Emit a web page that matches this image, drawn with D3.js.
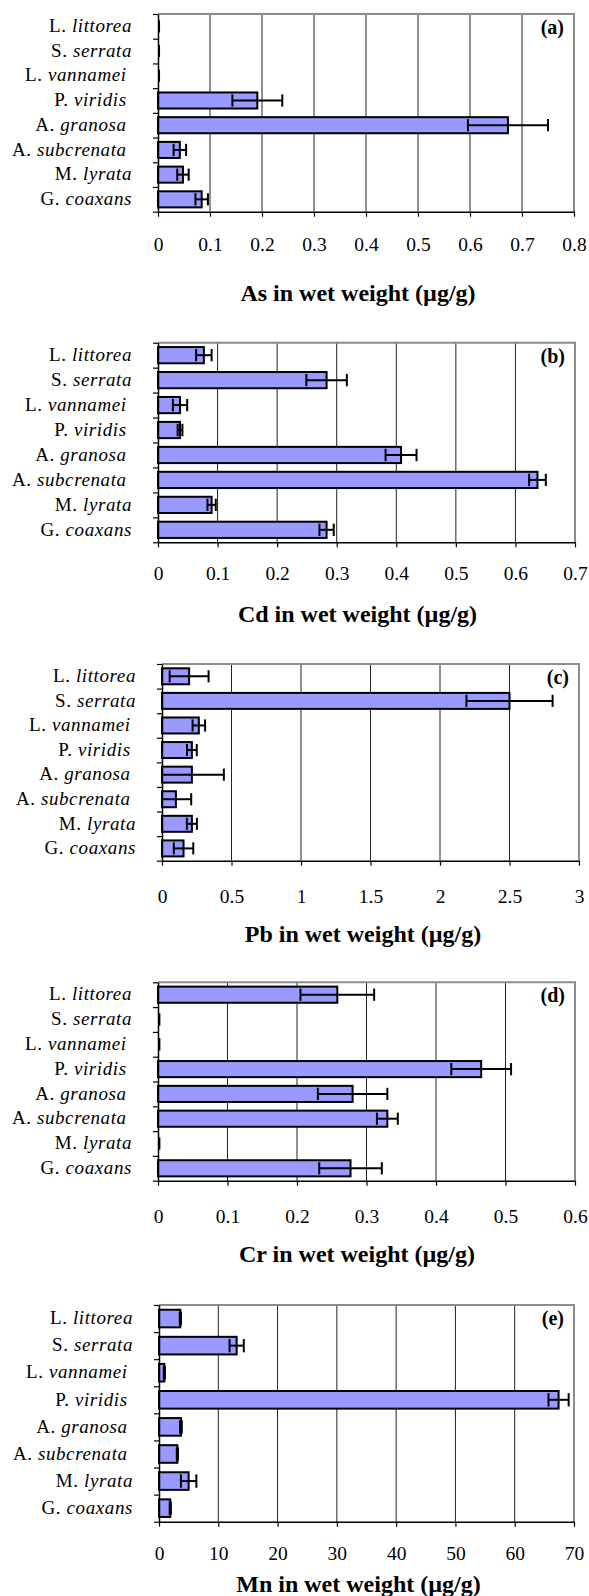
<!DOCTYPE html>
<html>
<head>
<meta charset="utf-8">
<script src="https://cdn.jsdelivr.net/npm/d3@7"></script>
<style>
  body { margin: 0; background: #fff; }
  svg { display: block; font-family: "Liberation Serif", "Times New Roman", serif; }
</style>
</head>
<body>
<div id="chart"></div>
<script>
// species (genus abbreviation upright, species italic); some names carry a trailing space in the original
const genus   = ["L.", "S.", "L.", "P.", "A.", "A.", "M.", "G."];
const species = ["littorea", "serrata", "vannamei ", "viridis ", "granosa ", "subcrenata ", "lyrata", "coaxans"];

// metal concentrations in wet weight (µg/g) with error (± SD)
const asVals = [0, 0, 0, 0.191, 0.673, 0.042, 0.048, 0.084];
const asErr  = [0.002, 0.002, 0.002, 0.048, 0.077, 0.012, 0.011, 0.012];
const cdVals = [0.077, 0.283, 0.037, 0.037, 0.408, 0.637, 0.090, 0.283];
const cdErr  = [0.013, 0.034, 0.012, 0.004, 0.026, 0.014, 0.007, 0.012];
const pbVals = [0.195, 2.5, 0.265, 0.215, 0.215, 0.1, 0.215, 0.155];
const pbErr  = [0.14, 0.31, 0.045, 0.035, 0.23, 0.11, 0.036, 0.07];
const crVals = [0.258, 0, 0, 0.465, 0.280, 0.330, 0, 0.277];
const crErr  = [0.053, 0.002, 0.002, 0.043, 0.05, 0.015, 0.002, 0.045];
const mnVals = [3.6, 13.1, 0.9, 67.4, 3.7, 3.1, 5.0, 1.9];
const mnErr  = [0.1, 1.2, 0.1, 1.7, 0.15, 0.1, 1.3, 0.1];

// tick values of each x axis
const asTicks = [0, 0.1, 0.2, 0.3, 0.4, 0.5, 0.6, 0.7, 0.8];
const cdTicks = [0, 0.1, 0.2, 0.3, 0.4, 0.5, 0.6, 0.7];
const pbTicks = [0, 0.5, 1, 1.5, 2, 2.5, 3];
const crTicks = [0, 0.1, 0.2, 0.3, 0.4, 0.5, 0.6];
const mnTicks = [0, 10, 20, 30, 40, 50, 60, 70];

const metals = ["As", "Cd", "Pb", "Cr", "Mn"];
const panelTags = ["(a)", "(b)", "(c)", "(d)", "(e)"];

// page layout of each panel
const layout = [
  {vals: asVals, errs: asErr, ticks: asTicks, top: 14,  bottom: 211.7,  left: 158, right: 574, tickY: 244,   titleY: 293,   titleX: 358},
  {vals: cdVals, errs: cdErr, ticks: cdTicks, top: 342.7, bottom: 542.3, left: 158, right: 575, tickY: 573.3, titleY: 613.3, titleX: 357.5},
  {vals: pbVals, errs: pbErr, ticks: pbTicks, top: 664, bottom: 860.7,  left: 162, right: 579, tickY: 895.7, titleY: 934,   titleX: 363},
  {vals: crVals, errs: crErr, ticks: crTicks, top: 982.3, bottom: 1180.7, left: 158, right: 575, tickY: 1215.7, titleY: 1254, titleX: 357},
  {vals: mnVals, errs: mnErr, ticks: mnTicks, top: 1305, bottom: 1521.7, left: 159, right: 574, tickY: 1552.7, titleY: 1584, titleX: 358.5}
];

const width = 589, height = 1596;
const barFill = "#9999ff";
const serif = "\"Liberation Serif\", \"Times New Roman\", serif";

const svg = d3.select("#chart")
    .append("svg")
    .attr("width", width)
    .attr("height", height)
    .attr("font-family", serif);

svg.append("rect").attr("width", width).attr("height", height).attr("fill", "#fff");

layout.forEach((p, k) => {
    const g = svg.append("g");
    const rows = species.map((s, i) => ({i: i, genus: genus[i], species: s, v: p.vals[i], e: p.errs[i]}));

    const x = d3.scaleLinear()
        .domain([0, p.ticks[p.ticks.length - 1]])
        .range([p.left, p.right]);

    const y = d3.scaleBand()
        .domain(d3.range(species.length))
        .range([p.top, p.bottom])
        .paddingInner(0.35)
        .paddingOuter(0.175);

    const yEdge = d3.scaleLinear()
        .domain([0, species.length])
        .range([p.top, p.bottom]);

    // vertical gridlines
    g.selectAll("gridLines")
        .data(p.ticks.slice(1, -1))
        .enter()
        .append("line")
            .attr("x1", d => x(d))
            .attr("x2", d => x(d))
            .attr("y1", p.top)
            .attr("y2", p.bottom)
            .attr("stroke", "#222")
            .attr("stroke-width", 1);

    // plot frame (top and right in grey)
    g.append("path")
        .attr("d", `M${x.range()[0]},${p.top}H${x.range()[1]}V${p.bottom}`)
        .attr("fill", "none")
        .attr("stroke", "#8c8c8c")
        .attr("stroke-width", 2);

    // bars
    g.selectAll("bars")
        .data(rows.filter(d => d.v > 0))
        .enter()
        .append("rect")
            .attr("x", x(0))
            .attr("y", d => y(d.i))
            .attr("width", d => x(d.v) - x(0))
            .attr("height", y.bandwidth())
            .attr("fill", barFill)
            .attr("stroke", "#000")
            .attr("stroke-width", 2);

    // error bars
    const capH = y.bandwidth() * 0.38;
    const errG = g.selectAll("errBars")
        .data(rows)
        .enter()
        .append("g")
            .attr("stroke", "#000")
            .attr("stroke-width", 2);
    errG.append("line")
        .attr("x1", d => x(Math.max(0, d.v - d.e)))
        .attr("x2", d => x(d.v + d.e))
        .attr("y1", d => y(d.i) + y.bandwidth() / 2)
        .attr("y2", d => y(d.i) + y.bandwidth() / 2);
    errG.append("line")
        .attr("x1", d => x(d.v + d.e))
        .attr("x2", d => x(d.v + d.e))
        .attr("y1", d => y(d.i) + y.bandwidth() / 2 - capH)
        .attr("y2", d => y(d.i) + y.bandwidth() / 2 + capH);
    errG.filter(d => d.v - d.e >= 0)
        .append("line")
        .attr("x1", d => x(d.v - d.e))
        .attr("x2", d => x(d.v - d.e))
        .attr("y1", d => y(d.i) + y.bandwidth() / 2 - capH)
        .attr("y2", d => y(d.i) + y.bandwidth() / 2 + capH);

    // x axis
    const xAxis = g.append("g")
        .attr("transform", `translate(0,${p.bottom})`)
        .call(d3.axisBottom(x).tickValues(p.ticks).tickSize(5).tickSizeOuter(0).tickFormat(d3.format("~g")));
    xAxis.attr("font-family", serif);
    xAxis.select(".domain").attr("stroke", "#000").attr("stroke-width", 1.5);
    xAxis.selectAll(".tick line").attr("stroke", "#000").attr("stroke-width", 1.2);
    xAxis.selectAll(".tick text")
        .attr("y", p.tickY - p.bottom)
        .attr("dy", "0.35em")
        .attr("fill", "#000")
        .style("font-size", "19.5px");

    // y axis: tick marks between categories
    const yAxis = g.append("g")
        .attr("transform", `translate(${p.left},0)`)
        .call(d3.axisLeft(yEdge).tickValues(d3.range(species.length + 1)).tickSize(5).tickSizeOuter(0).tickFormat(""));
    yAxis.select(".domain").attr("stroke", "#000").attr("stroke-width", 1.5);
    yAxis.selectAll(".tick line").attr("stroke", "#000").attr("stroke-width", 1.2);

    // category labels
    const labels = g.selectAll("catLabels")
        .data(rows)
        .enter()
        .append("text")
            .attr("x", p.left - 26)
            .attr("y", d => y(d.i) + y.bandwidth() / 2)
            .attr("dy", "0.3em")
            .attr("text-anchor", "end")
            .style("font-size", "19px")
            .style("letter-spacing", "0.6px")
            .style("white-space", "pre")
            .attr("fill", "#000");
    labels.append("tspan").text(d => d.genus + " ");
    labels.append("tspan").attr("font-style", "italic").text(d => d.species);

    // panel tag
    g.append("text")
        .attr("x", p.right - 10)
        .attr("y", p.top + 13)
        .attr("dy", "0.35em")
        .attr("text-anchor", "end")
        .style("font-size", "20px")
        .style("font-weight", "bold")
        .text(panelTags[k]);

    // x title
    g.append("text")
        .attr("x", p.titleX)
        .attr("y", p.titleY)
        .attr("dy", "0.35em")
        .attr("text-anchor", "middle")
        .style("font-size", "24px")
        .style("font-weight", "bold")
        .text(`${metals[k]} in wet weight (µg/g)`);
});
</script>
</body>
</html>
